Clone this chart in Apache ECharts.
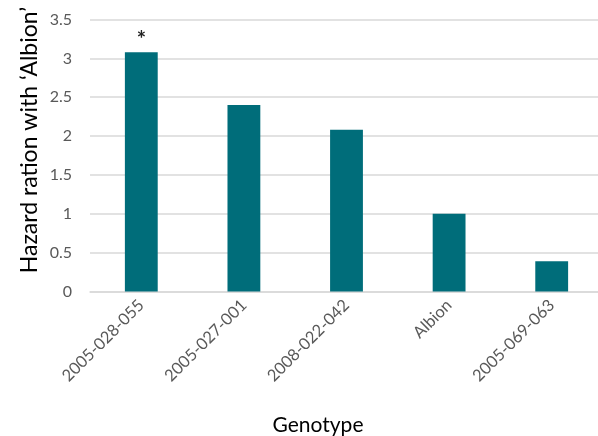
<!DOCTYPE html>
<html>
<head>
<meta charset="utf-8">
<script src="https://cdn.jsdelivr.net/npm/echarts@6/dist/echarts.min.js"></script>
<style>html,body{margin:0;padding:0;background:#fff;}#c{width:598px;height:436px;}</style>
</head>
<body>
<div id="c"></div>
<script>
const categories = ['2005-028-055', '2005-027-001', '2008-022-042', 'Albion', '2005-069-063'];
const hazardValues = [3.08, 2.40, 2.08, 1.00, 0.39];
const markers = ['*', '', '', '', ''];
const yTicks = { min: 0, max: 3.5, interval: 0.5 };
const xTitle = 'Genotype';
const yTitle = 'Hazard ration with \u2018Albion\u2019';

const FONT = 'Lato, "Open Sans", sans-serif';
const chart = echarts.init(document.getElementById('c'), null, { renderer: 'canvas' });
chart.setOption({
  animation: false,
  backgroundColor: '#ffffff',
  grid: { left: 90, top: 19.5, width: 513, height: 272, containLabel: false, outerBoundsMode: 'none' },
  xAxis: {
    type: 'category',
    data: categories,
    axisLine: { show: true, lineStyle: { color: '#d9d9d9', width: 1.5 } },
    axisTick: { show: false },
    axisLabel: { rotate: 45, color: '#595959', fontSize: 16.5, fontFamily: FONT, margin: 11, interval: 0 }
  },
  yAxis: {
    type: 'value',
    min: yTicks.min, max: yTicks.max, interval: yTicks.interval,
    axisLine: { show: false },
    axisTick: { show: false },
    splitLine: { lineStyle: { color: '#d9d9d9', width: 1.5 } },
    axisLabel: { color: '#595959', fontSize: 16, fontFamily: FONT, margin: 18 }
  },
  series: [{
    type: 'bar',
    data: hazardValues.map((v, i) => ({ value: v, label: { show: markers[i] !== '', formatter: markers[i] } })),
    barWidth: '32%',
    itemStyle: { color: '#006D7A' },
    label: { position: 'top', distance: 1, color: '#222', fontSize: 22, fontWeight: 'bold', fontFamily: FONT }
  }],
  graphic: [
    { type: 'text', x: 30, y: 140, rotation: Math.PI / 2,
      style: { text: yTitle, fill: '#000', fontSize: 23, fontFamily: FONT, align: 'center', verticalAlign: 'middle' } },
    { type: 'text', x: 318, y: 425,
      style: { text: xTitle, fill: '#000', fontSize: 21, fontFamily: FONT, align: 'center', verticalAlign: 'middle' } }
  ]
});
</script>
</body>
</html>
